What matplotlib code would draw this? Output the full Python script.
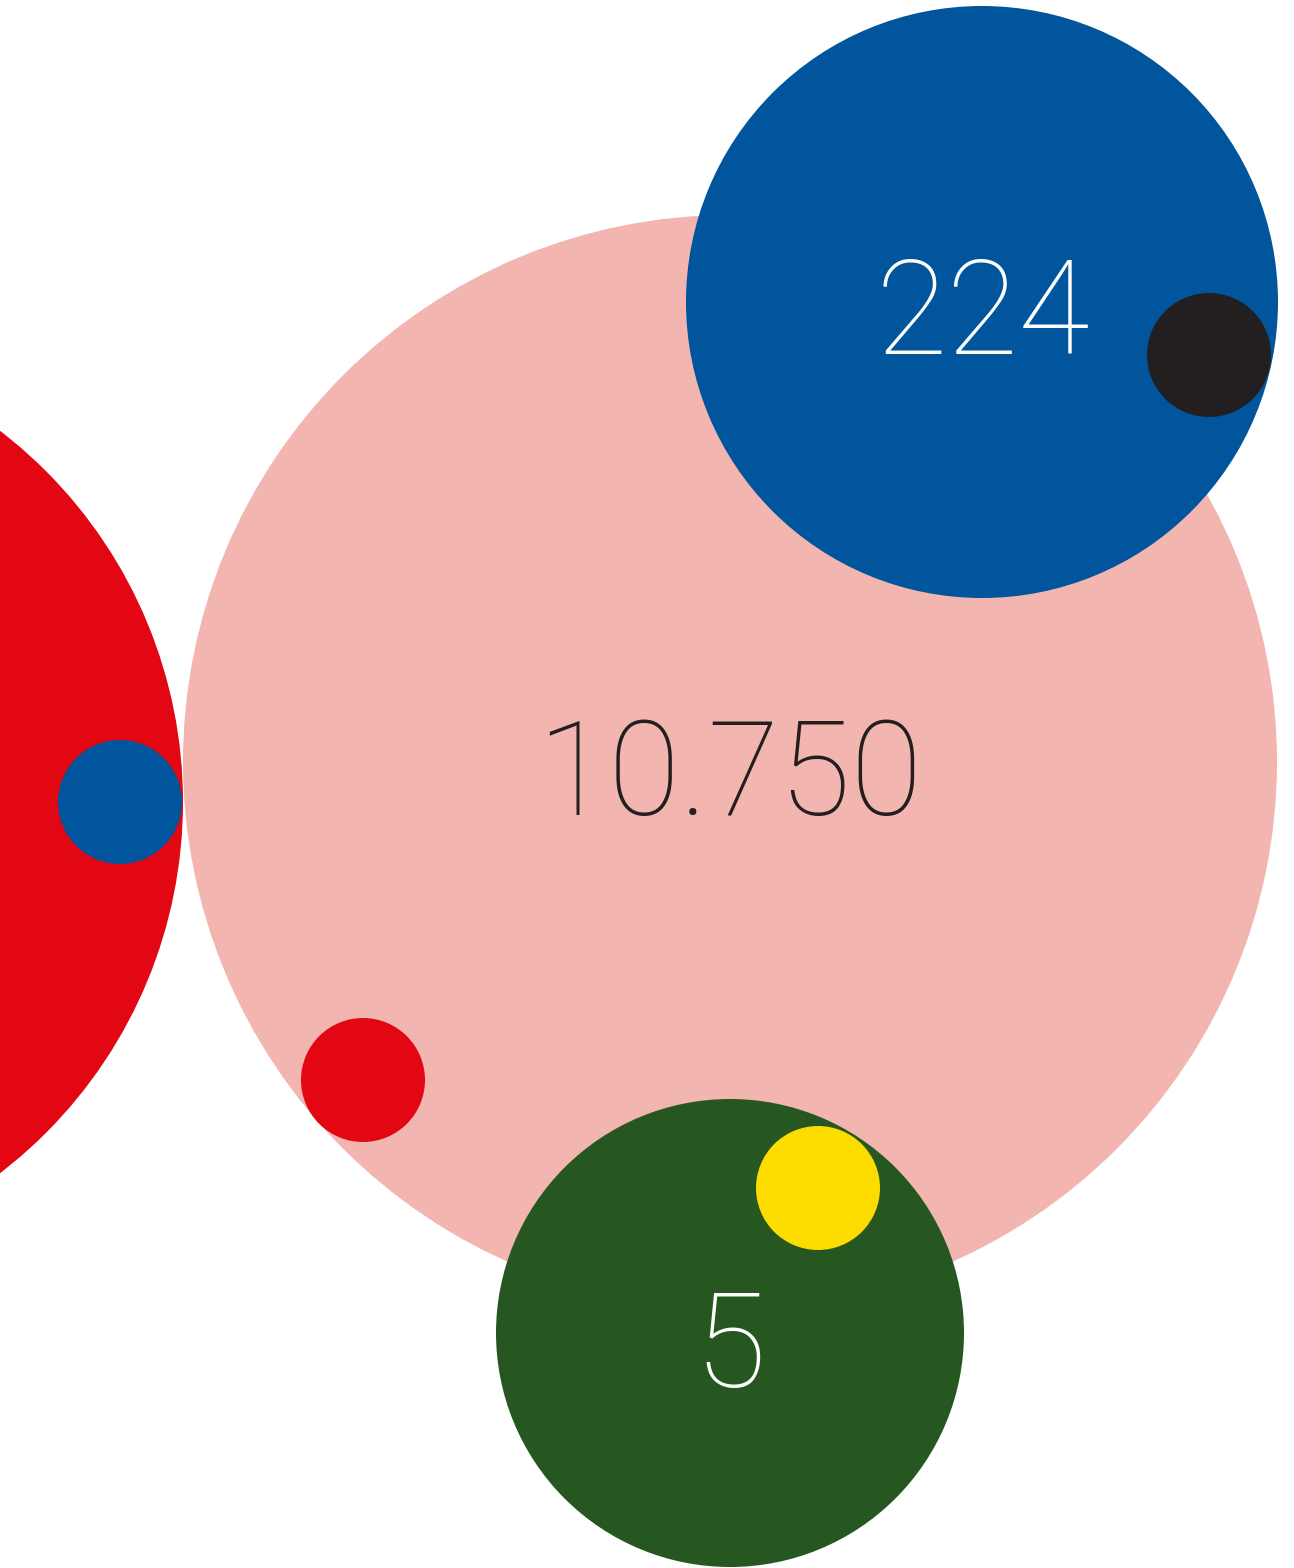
import matplotlib
matplotlib.use("Agg")
import matplotlib.pyplot as plt
from matplotlib.patches import Circle

# bubble data (pixel-space layout of the reference)
names = ["red_big", "pink", "blue_small", "red_small", "green", "yellow", "blue_big", "black"]
cx = [-285, 730, 120, 363, 730, 818, 982, 1209]
cy = [802, 762, 802, 1080, 1333, 1188, 302, 355]
radius = [468, 547, 62, 62, 234, 62, 296, 62]
colors = ["#e30613", "#f2b5b0", "#00559d", "#e30613", "#265720", "#fddd00", "#00559d", "#231f20"]

labels = ["10.750", "224", "5"]
label_x = [730, 983, 730]
label_y = [765, 304, 1338]
label_colors = ["#231f20", "#ffffff", "#ffffff"]

W, H = 1294, 1568
fig = plt.figure(figsize=(W / 100, H / 100), dpi=100)
ax = fig.add_axes([0, 0, 1, 1])
ax.set_xlim(0, W)
ax.set_ylim(H, 0)
ax.set_aspect("equal")
ax.axis("off")

for i, (x, y, r, c) in enumerate(zip(cx, cy, radius, colors)):
    ax.add_patch(Circle((x, y), r, facecolor=c, edgecolor="none", zorder=i + 1))

for t, x, y, c in zip(labels, label_x, label_y, label_colors):
    ax.text(x, y, t, ha="center", va="center_baseline", color=c, fontsize=94,
            family=["Roboto", "DejaVu Sans"], fontweight="light", zorder=20)

fig.savefig("out.png", dpi=100)
